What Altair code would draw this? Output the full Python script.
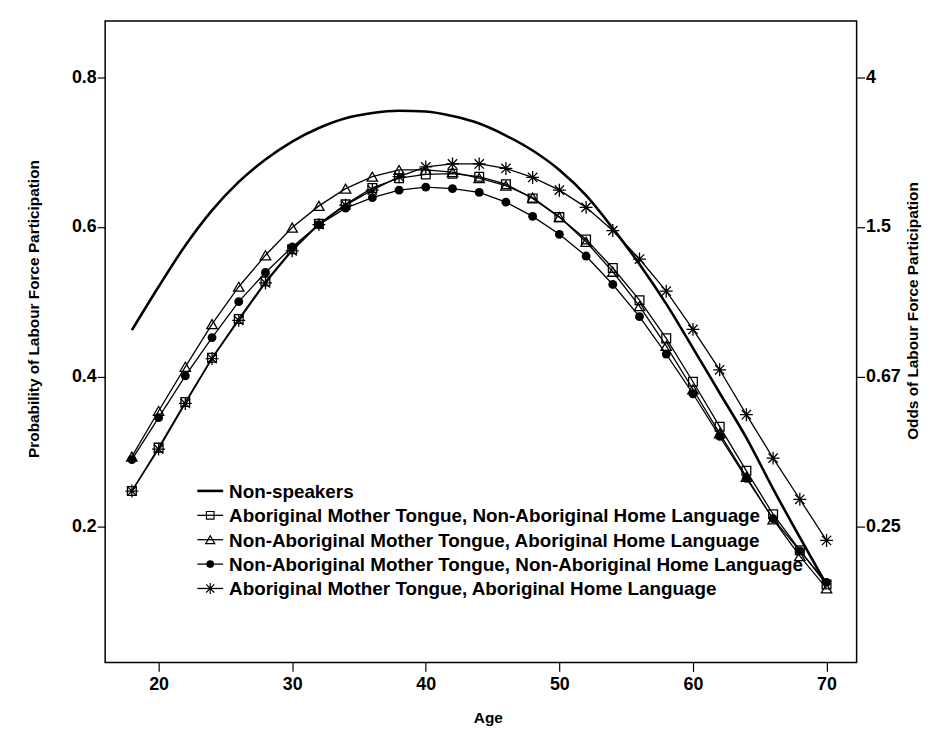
import altair as alt
import pandas as pd

ages = list(range(18, 71, 2))

non_speakers = [0.462, 0.520, 0.575, 0.622, 0.660, 0.690, 0.714, 0.732, 0.745, 0.752,
                0.755, 0.754, 0.748, 0.738, 0.722, 0.702, 0.676, 0.642, 0.598, 0.550,
                0.497, 0.438, 0.378, 0.318, 0.250, 0.185, 0.122]
amt_nahl = [0.247, 0.305, 0.366, 0.425, 0.477, 0.527, 0.570, 0.604, 0.630, 0.652,
            0.665, 0.670, 0.671, 0.667, 0.657, 0.638, 0.613, 0.583, 0.545, 0.502,
            0.451, 0.393, 0.333, 0.274, 0.216, 0.168, 0.122]
namt_ahl = [0.293, 0.354, 0.413, 0.470, 0.520, 0.562, 0.599, 0.628, 0.651, 0.667,
            0.676, 0.676, 0.673, 0.665, 0.655, 0.639, 0.613, 0.580, 0.540, 0.494,
            0.441, 0.383, 0.324, 0.266, 0.209, 0.160, 0.117]
namt_nahl = [0.289, 0.345, 0.401, 0.452, 0.500, 0.539, 0.573, 0.603, 0.625, 0.639,
             0.649, 0.653, 0.651, 0.646, 0.633, 0.614, 0.590, 0.561, 0.523, 0.480,
             0.430, 0.377, 0.320, 0.264, 0.210, 0.167, 0.125]
amt_ahl = [0.247, 0.303, 0.364, 0.424, 0.475, 0.525, 0.568, 0.603, 0.629, 0.649,
           0.667, 0.680, 0.684, 0.684, 0.678, 0.666, 0.649, 0.626, 0.595, 0.557,
           0.514, 0.463, 0.409, 0.349, 0.291, 0.236, 0.181]

series_names = [
    "Non-speakers",
    "Aboriginal Mother Tongue, Non-Aboriginal Home Language",
    "Non-Aboriginal Mother Tongue, Aboriginal Home Language",
    "Non-Aboriginal Mother Tongue, Non-Aboriginal Home Language",
    "Aboriginal Mother Tongue, Aboriginal Home Language",
]
series_values = [non_speakers, amt_nahl, namt_ahl, namt_nahl, amt_ahl]

x_ticks = [20, 30, 40, 50, 60, 70]
prob_ticks = [0.2, 0.4, 0.6, 0.8]
odds_labels = ["0.25", "0.67", "1.5", "4"]

FONT = "Liberation Sans"
STAR = "M0,-1V1M-1,0H1M-0.72,-0.72L0.72,0.72M-0.72,0.72L0.72,-0.72"
markers = [
    None,
    dict(shape="square", size=78, filled=False),
    dict(shape="triangle-up", size=110, filled=False),
    dict(shape="circle", size=80, filled=True),
    dict(shape=STAR, size=170, filled=False),
]

W, H = 758, 647
xs = alt.Scale(domain=[16, 72.25], nice=False, zero=False)
ys = alt.Scale(domain=[0.018, 0.875], nice=False, zero=False)

x_axis = alt.Axis(values=x_ticks, title="Age", grid=False, domain=False,
                  tickSize=9, tickColor="black", tickWidth=1.2,
                  labelFont=FONT, labelFontSize=18, labelFontWeight="bold",
                  labelColor="black", labelPadding=4,
                  titleFont=FONT, titleFontSize=15.5, titleFontWeight="bold",
                  titleColor="black", titleX=386, titleY=56, titleAlign="center",
                  titleBaseline="middle")
y_left = alt.Axis(values=prob_ticks, title="Probability of Labour Force Participation",
                  grid=False, domain=False, orient="left", format=".1f",
                  tickSize=8, tickColor="black", tickWidth=1.2,
                  labelFont=FONT, labelFontSize=18, labelFontWeight="bold",
                  labelColor="black", labelPadding=1,
                  titleFont=FONT, titleFontSize=15.5, titleFontWeight="bold",
                  titleColor="black", titleAngle=270, titleX=-72, titleY=290,
                  titleAlign="center", titleBaseline="middle")
odds_expr = " : ".join(
    f"abs(datum.value - {v}) < 0.001 ? '{lab}'" for v, lab in zip(prob_ticks, odds_labels)
) + " : ''"
y_right = alt.Axis(values=prob_ticks, title="Odds of Labour Force Participation",
                   grid=False, domain=False, orient="right", labelExpr=odds_expr,
                   tickSize=8, tickColor="black", tickWidth=1.2,
                   labelFont=FONT, labelFontSize=18, labelFontWeight="bold",
                   labelColor="black", labelPadding=1,
                   titleFont=FONT, titleFontSize=15.5, titleFontWeight="bold",
                   titleColor="black", titleAngle=270, titleX=56, titleY=292,
                   titleAlign="center", titleBaseline="middle")

rows = []
for name, vals in zip(series_names, series_values):
    for a, v in zip(ages, vals):
        rows.append({"age": a, "p": v, "series": name})
df = pd.DataFrame(rows)

layers = []
for i, (name, mk) in enumerate(zip(series_names, markers)):
    sub = df[df.series == name]
    lw = 2.6 if mk is None else 1.3
    interp = "monotone" if mk is None else "linear"
    yax = y_left if i == 0 else None
    line = alt.Chart(sub).mark_line(color="black", strokeWidth=lw, interpolate=interp).encode(
        x=alt.X("age:Q", scale=xs, axis=x_axis),
        y=alt.Y("p:Q", scale=ys, axis=yax),
    )
    layers.append(line)

# right odds axis (invisible carrier layer)
layers.append(
    alt.Chart(df[df.series == series_names[0]]).mark_line(opacity=0).encode(
        x=alt.X("age:Q", scale=xs, axis=x_axis),
        y=alt.Y("p:Q", scale=ys, axis=y_right),
    )
)

for name, mk in zip(series_names, markers):
    if mk is None:
        continue
    sub = df[df.series == name]
    pt = alt.Chart(sub).mark_point(
        shape=mk["shape"], size=mk["size"], filled=mk["filled"],
        color="black", strokeWidth=1.3, opacity=1,
    )
    layers.append(pt.encode(
        x=alt.X("age:Q", scale=xs, axis=x_axis),
        y=alt.Y("p:Q", scale=ys, axis=None),
    ))

# manual legend (pixel positions inside plot area)
leg_x0, leg_x1, leg_text = 93, 119, 125
leg_y0, leg_dy = 474, 24.6
one = alt.Data(values=[{"k": 1}])
for i, (name, mk) in enumerate(zip(series_names, markers)):
    yy = leg_y0 + i * leg_dy
    lw = 2.6 if mk is None else 1.3
    layers.append(alt.Chart(one).mark_rule(color="black", strokeWidth=lw).encode(
        x=alt.value(leg_x0), x2=alt.value(leg_x1), y=alt.value(yy)))
    if mk is not None:
        m = alt.Chart(one).mark_point(shape=mk["shape"], size=mk["size"] * 0.75,
                                      filled=mk["filled"], color="black",
                                      strokeWidth=1.2, opacity=1)
        layers.append(m.encode(x=alt.value((leg_x0 + leg_x1) / 2), y=alt.value(yy)))
    layers.append(alt.Chart(one).mark_text(
        text=name, align="left", baseline="middle", font=FONT, fontSize=19,
        fontWeight="bold", color="black").encode(x=alt.value(leg_text), y=alt.value(yy + 1)))

chart = alt.layer(*layers).resolve_axis(y="independent").properties(
    width=W, height=H,
    autosize=alt.AutoSizeParams(type="none"),
    padding={"left": 98, "top": 10, "right": 70, "bottom": 62},
    background="white",
).configure_view(stroke="black", strokeWidth=1.5)

chart.save("out.html", embed_options={"renderer": "svg", "actions": False})
